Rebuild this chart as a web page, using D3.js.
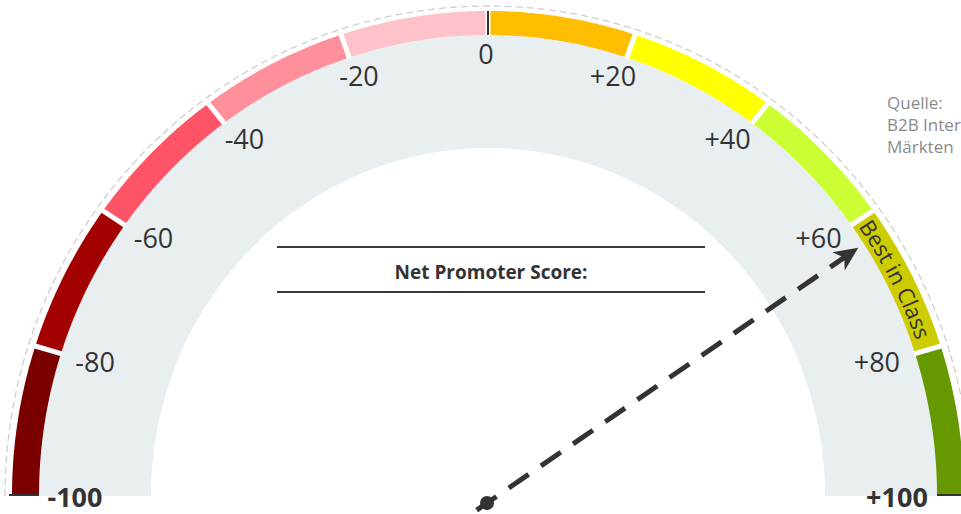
<!DOCTYPE html>
<html>
<head>
<meta charset="utf-8">
<script src="https://cdn.jsdelivr.net/npm/d3@7/dist/d3.min.js"></script>
<style>
  html, body { margin: 0; padding: 0; background: #ffffff; }
  svg { display: block; }
</style>
</head>
<body>
<svg id="chart" width="961" height="514"></svg>
<script>
// ---------------- DATA ----------------
const bandFrom   = [-100, -80, -60, -40, -20,   0,  20,  40,  60,  80];
const bandTo     = [ -80, -60, -40, -20,   0,  20,  40,  60,  80, 100];
const bandColors = ["#7a0000", "#a30000", "#ff5468", "#ff8f9b", "#ffc2ca",
                    "#ffbf00", "#ffff00", "#ccff33", "#cccc00", "#669900"];
const bandLabels = ["", "", "", "", "", "", "", "", "Best in Class", ""];
const tickValues = [-100, -80, -60, -40, -20, 0, 20, 40, 60, 80, 100];
const tickLabels = ["-100", "-80", "-60", "-40", "-20", "0", "+20", "+40", "+60", "+80", "+100"];
const needleValue = 63;
const centerTitle = "Net Promoter Score:";
const sourceLines = ["Quelle:", "B2B International", "Märkten"];

// ---------------- LAYOUT ----------------
const svg = d3.select("#chart");
const cx = 488, cy = 496;
const R_OUT   = [476, 485];   // coloured band outer [rx, ry]
const R_IN    = [449, 461];   // coloured band inner
const R_GRAY  = [337, 348];   // grey band inner
const R_DASH  = [483, 490];   // faint dashed ring
const R_LABEL = [411, 446];   // label centres
const labelCx = 486, labelCy = 500;

const angle = d3.scaleLinear().domain([-100, 100]).range([Math.PI, 0]);
function pt(v, r, ox = cx, oy = cy) {
  const a = angle(v);
  return [ox + r[0] * Math.cos(a), oy - r[1] * Math.sin(a)];
}
function sector(v0, v1, ro, ri, n = 60) {
  const vs = d3.range(n + 1).map(i => v0 + (v1 - v0) * i / n);
  const outer = vs.map(v => pt(v, ro));
  const inner = vs.slice().reverse().map(v => pt(v, ri));
  return d3.line()(outer.concat(inner)) + "Z";
}
function arcLine(v0, v1, r, n = 200) {
  const vs = d3.range(n + 1).map(i => v0 + (v1 - v0) * i / n);
  return d3.line()(vs.map(v => pt(v, r)));
}

// faint dashed ring
svg.append("path")
  .attr("d", arcLine(-100, 100, R_DASH))
  .attr("fill", "none")
  .attr("stroke", "#cfcfcf")
  .attr("stroke-width", 1.3)
  .attr("stroke-dasharray", "7,4");

// grey band
svg.append("path")
  .attr("d", sector(-100, 100, R_IN, R_GRAY, 240))
  .attr("fill", "#e9eef1");

// coloured bands
const bands = bandFrom.map((f, i) => ({ from: f, to: bandTo[i], color: bandColors[i], label: bandLabels[i], i }));
svg.append("g").selectAll("path").data(bands).join("path")
  .attr("d", d => sector(d.from, d.to, R_OUT, R_IN))
  .attr("fill", d => d.color);

// white separators between bands
svg.append("g").selectAll("line").data(bandFrom.slice(1)).join("line")
  .attr("x1", v => pt(v, [R_IN[0] - 1, R_IN[1] - 1])[0])
  .attr("y1", v => pt(v, [R_IN[0] - 1, R_IN[1] - 1])[1])
  .attr("x2", v => pt(v, [R_OUT[0] + 2, R_OUT[1] + 2])[0])
  .attr("y2", v => pt(v, [R_OUT[0] + 2, R_OUT[1] + 2])[1])
  .attr("stroke", "#ffffff")
  .attr("stroke-width", 5);

// dark ticks at -100, 0, +100
svg.append("g").selectAll("line").data([-100, 0, 100]).join("line")
  .attr("x1", v => pt(v, R_IN)[0])
  .attr("y1", v => pt(v, R_IN)[1] - (v === 0 ? 0 : 1))
  .attr("x2", v => pt(v, R_OUT)[0] + (v === -100 ? -3 : v === 100 ? 3 : 0))
  .attr("y2", v => pt(v, R_OUT)[1] - (v === 0 ? 0 : 1))
  .attr("stroke", "#333333")
  .attr("stroke-width", 2);

// band label along arc
const defs = svg.append("defs");
bands.filter(d => d.label).forEach(d => {
  const id = "bandpath" + d.i;
  defs.append("path").attr("id", id)
    .attr("d", arcLine(d.from, d.to + 6, [454, 465], 60));
  svg.append("text")
    .attr("font-family", "'Open Sans', sans-serif")
    .attr("font-size", 22)
    .attr("fill", "#333333")
    .append("textPath")
    .attr("href", "#" + id)
    .attr("startOffset", 5)
    .text(d.label);
});

// tick labels
svg.append("g").selectAll("text").data(tickValues).join("text")
  .attr("x", v => pt(v, R_LABEL, labelCx, labelCy)[0])
  .attr("y", v => Math.abs(v) === 100 ? 507 : pt(v, R_LABEL, labelCx, labelCy)[1] + 10)
  .attr("text-anchor", "middle")
  .attr("font-family", "'Open Sans', sans-serif")
  .attr("font-size", 27)
  .attr("font-weight", v => Math.abs(v) === 100 ? 700 : 400)
  .attr("fill", "#333333")
  .text((v, i) => tickLabels[i]);

// centre title with rules
const titleY = 272;
svg.append("line").attr("x1", 277).attr("x2", 705).attr("y1", titleY - 25).attr("y2", titleY - 25)
  .attr("stroke", "#3a3a3a").attr("stroke-width", 2);
svg.append("line").attr("x1", 277).attr("x2", 705).attr("y1", titleY + 20).attr("y2", titleY + 20)
  .attr("stroke", "#3a3a3a").attr("stroke-width", 2);
svg.append("text")
  .attr("x", 491).attr("y", titleY + 7)
  .attr("text-anchor", "middle")
  .attr("font-family", "'Open Sans', sans-serif")
  .attr("font-weight", 700)
  .attr("font-size", 19)
  .attr("fill", "#333333")
  .text(centerTitle);

// source text
svg.append("g").selectAll("text").data(sourceLines).join("text")
  .attr("x", 887)
  .attr("y", (d, i) => 109 + i * 22)
  .attr("font-family", "'Open Sans', sans-serif")
  .attr("font-size", 17)
  .attr("fill", "#8a8a8a")
  .text(d => d);

// needle
const pivot = [487, 503];
const tip = pt(needleValue, [443, 452]);
const dx = tip[0] - pivot[0], dy = tip[1] - pivot[1];
const len = Math.hypot(dx, dy);
const ux = dx / len, uy = dy / len;
const rot = Math.atan2(dy, dx) * 180 / Math.PI;
const back = [tip[0] - ux * 16, tip[1] - uy * 16];
const tail = [pivot[0] - ux * 24, pivot[1] - uy * 24];
svg.append("line")
  .attr("x1", back[0]).attr("y1", back[1])
  .attr("x2", tail[0]).attr("y2", tail[1])
  .attr("stroke", "#333333")
  .attr("stroke-width", 5)
  .attr("stroke-dasharray", "24,15")
  .attr("stroke-dashoffset", 6);
svg.append("path")
  .attr("d", "M0,0 L-24,-11 L-17,0 L-24,11 Z")
  .attr("transform", `translate(${tip[0]},${tip[1]}) rotate(${rot})`)
  .attr("fill", "#333333");
svg.append("circle")
  .attr("cx", pivot[0]).attr("cy", pivot[1]).attr("r", 7)
  .attr("fill", "#333333");
</script>
</body>
</html>
